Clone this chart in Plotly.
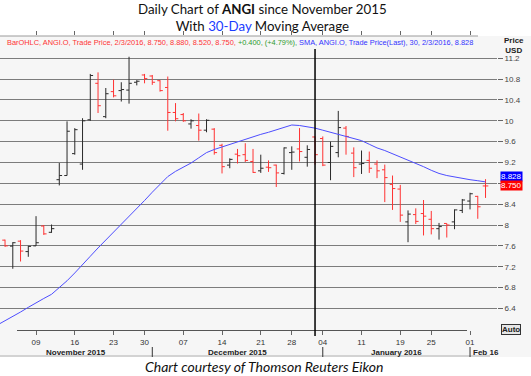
import plotly.graph_objects as go

# ---------------- data ----------------
dates = [
    "2015-11-02", "2015-11-03", "2015-11-04", "2015-11-05", "2015-11-06",
    "2015-11-09", "2015-11-10", "2015-11-11", "2015-11-12", "2015-11-13",
    "2015-11-16", "2015-11-17", "2015-11-18", "2015-11-19", "2015-11-20",
    "2015-11-23", "2015-11-24", "2015-11-25", "2015-11-27", "2015-11-30",
    "2015-12-01", "2015-12-02", "2015-12-03", "2015-12-04", "2015-12-07",
    "2015-12-08", "2015-12-09", "2015-12-10", "2015-12-11", "2015-12-14",
    "2015-12-15", "2015-12-16", "2015-12-17", "2015-12-18", "2015-12-21",
    "2015-12-22", "2015-12-23", "2015-12-24", "2015-12-28", "2015-12-29",
    "2015-12-30", "2015-12-31", "2016-01-04", "2016-01-05", "2016-01-06",
    "2016-01-07", "2016-01-08", "2016-01-11", "2016-01-12", "2016-01-13",
    "2016-01-14", "2016-01-15", "2016-01-19", "2016-01-20", "2016-01-21",
    "2016-01-22", "2016-01-25", "2016-01-26", "2016-01-27", "2016-01-28",
    "2016-01-29", "2016-02-01", "2016-02-02", "2016-02-03",
]
bar_dates = dates[1:]

opens = [7.71, 7.595, 7.69, 7.49,
         7.60, 7.98, 7.86, 8.87, 8.95,
         9.37, 9.17, 10.02, 10.72, 10.08,
         10.56, 10.58, 10.59, 10.74, 10.88,
         10.86, 10.77, 10.64, 10.16, 10.12,
         9.94, 9.91, 9.82, 9.84, 9.53,
         9.15, 9.36, 9.35, 9.22, 9.04,
         9.11, 9.15, 8.99, 9.39, 9.46,
         9.30, 9.69, 9.66, 9.20, 9.39,
         9.86, 9.38, 9.17, 9.24, 9.17,
         9.06, 8.78, 8.69, 8.06, 8.20,
         8.22, 8.11, 7.93, 8.03, 8.06,
         8.28, 8.46, 8.55, 8.75]
highs = [7.72, 7.67, 7.71, 7.60,
         8.17, 8.00, 8.01, 9.19, 9.99,
         9.86, 10.05, 10.90, 10.93, 10.63,
         10.79, 10.74, 11.23, 10.78, 10.90,
         10.88, 10.78, 10.85, 10.34, 10.15,
         10.03, 10.14, 10.03, 9.86, 9.56,
         9.28, 9.46, 9.57, 9.46, 9.35,
         9.24, 9.16, 9.49, 9.51, 9.86,
         9.53, 9.70, 9.70, 9.60, 10.19,
         9.90, 9.49, 9.43, 9.41, 9.24,
         9.16, 8.95, 8.77, 8.28, 8.32,
         8.48, 8.27, 8.04, 8.03, 8.30,
         8.50, 8.62, 8.56, 8.88]
lows = [7.58, 7.16, 7.30, 7.39,
        7.60, 7.81, 7.85, 8.76, 8.95,
        9.35, 9.06, 10.00, 10.15, 10.05,
        10.45, 10.37, 10.33, 10.68, 10.72,
        10.69, 10.56, 9.81, 9.99, 9.98,
        9.85, 9.62, 9.78, 9.35, 8.99,
        9.09, 9.18, 9.21, 9.00, 9.00,
        9.02, 8.73, 8.97, 9.06, 9.22,
        9.12, 9.16, 9.13, 8.86, 9.30,
        9.35, 8.92, 8.98, 9.00, 8.90,
        8.44, 8.29, 8.06, 7.67, 8.02,
        7.80, 7.82, 7.72, 7.76, 7.92,
        8.23, 8.30, 8.12, 8.52]
closes = [7.60, 7.66, 7.50, 7.59,
          7.66, 7.83, 7.93, 8.95, 9.80,
          9.83, 10.00, 10.87, 10.29, 10.52,
          10.48, 10.60, 10.72, 10.76, 10.81,
          10.74, 10.58, 10.16, 10.04, 10.00,
          10.00, 9.82, 10.01, 9.39, 9.12,
          9.26, 9.33, 9.24, 9.01, 9.09,
          9.10, 9.00, 9.48, 9.40, 9.41,
          9.45, 9.35, 9.15, 9.51, 9.87,
          9.70, 9.10, 9.18, 9.09, 9.04,
          8.91, 8.70, 8.19, 8.21, 8.07,
          8.17, 7.93, 7.97, 8.00, 8.29,
          8.48, 8.60, 8.35, 8.75]
bar_colour = ["d", "u", "d", "u",
              "u", "d", "u", "u", "u",
              "u", "u", "u", "d", "u",
              "d", "u", "u", "u", "d",
              "d", "d", "d", "d", "d",
              "u", "d", "u", "d", "d",
              "u", "d", "d", "d", "u",
              "d", "d", "u", "u", "d",
              "u", "d", "d", "u", "u",
              "d", "d", "u", "d", "d",
              "d", "d", "d", "u", "d",
              "d", "d", "u", "d", "u",
              "u", "u", "d", "d"]

sma30 = [6.08, 6.16, 6.25, 6.33, 6.42,
         6.51, 6.59, 6.67, 6.80, 6.93,
         7.08, 7.23, 7.40, 7.56, 7.71,
         7.86, 8.02, 8.17, 8.31, 8.47,
         8.63, 8.79, 8.93, 9.03, 9.11,
         9.19, 9.29, 9.39, 9.45, 9.50,
         9.55, 9.60, 9.65, 9.69, 9.74,
         9.78, 9.83, 9.88, 9.92, 9.91,
         9.89, 9.86, 9.82, 9.78, 9.74,
         9.71, 9.67, 9.62, 9.55, 9.48,
         9.43, 9.37, 9.31, 9.24, 9.18,
         9.12, 9.05, 8.99, 8.95, 8.92,
         8.89, 8.87, 8.85, 8.828]

day_tick_dates = ["2015-11-09", "2015-11-16", "2015-11-23", "2015-11-30",
                  "2015-12-07", "2015-12-14", "2015-12-21", "2015-12-28",
                  "2016-01-04", "2016-01-11", "2016-01-19", "2016-01-25",
                  "2016-02-01"]
day_tick_labels = ["09", "16", "23", "30", "07", "14", "21", "28",
                   "04", "11", "19", "25", "01"]
month_labels = ["November 2015", "December 2015", "January 2016", "Feb 16"]
month_starts = ["2015-12-01", "2016-01-04", "2016-02-01"]
marker_date = "2015-12-31"

# the 8.8 label is hidden behind the last-value boxes in the reference
y_ticks = [11.2, 10.8, 10.4, 10.0, 9.6, 9.2, 8.8, 8.4, 8.0, 7.6, 7.2, 6.8, 6.4]
y_tick_labels = ["11.2", "10.8", "10.4", "10", "9.6", "9.2", "", "8.4",
                 "8", "7.6", "7.2", "6.8", "6.4"]

# ---------------- figure ----------------
W, H = 531, 376
ML, MR, MT, MB = 0, 34, 36, 46
PW, PH = W - ML - MR, H - MT - MB


def px_x(p):  # pixel -> paper x
    return (p - ML) / PW


def px_y(p):  # pixel -> paper y
    return (H - MB - p) / PH


RED = "#ff3333"
BLACK = "#2a2a2a"
BLUE_LINE = "#4d4dff"
PANEL = "#f6f6f6"
FONT = "Liberation Sans"

fig = go.Figure()

fig.add_trace(go.Scatter(x=dates, y=sma30, mode="lines",
                         line=dict(color=BLUE_LINE, width=1),
                         hoverinfo="skip"))

for key, col in (("u", BLACK), ("d", RED)):
    idx = [i for i, c in enumerate(bar_colour) if c == key]
    fig.add_trace(go.Ohlc(
        x=[bar_dates[i] for i in idx],
        open=[opens[i] for i in idx],
        high=[highs[i] for i in idx],
        low=[lows[i] for i in idx],
        close=[closes[i] for i in idx],
        increasing=dict(line=dict(color=col, width=1)),
        decreasing=dict(line=dict(color=col, width=1)),
        tickwidth=0.36,
    ))

fig.update_layout(
    width=W, height=H,
    margin=dict(l=ML, r=MR, t=MT, b=MB),
    paper_bgcolor="white", plot_bgcolor=PANEL,
    showlegend=False,
    font=dict(family=FONT, size=8, color="#333"),
)

fig.update_xaxes(
    type="category", categoryorder="array", categoryarray=dates,
    range=[0.35, 64.48],
    tickmode="array", tickvals=day_tick_dates, ticktext=day_tick_labels,
    ticks="outside", ticklen=4, tickcolor="#666", mirror="ticks",
    showline=False, showgrid=False, zeroline=False,
    tickfont=dict(family=FONT, size=8, color="#333"),
    rangeslider=dict(visible=False),
)

fig.update_yaxes(
    side="right", range=[5.985, 11.628],
    tickmode="array", tickvals=y_ticks, ticktext=y_tick_labels,
    ticks="outside", ticklen=5, tickcolor="#666",
    showgrid=True, gridcolor="#7c7c7c", gridwidth=1,
    zeroline=False, showline=False,
    tickfont=dict(family=FONT, size=8, color="#444"),
)

shapes = []
# panel background
shapes.append(dict(type="rect", xref="paper", yref="paper",
                   x0=px_x(0), x1=px_x(W), y0=px_y(357), y1=px_y(36),
                   fillcolor=PANEL, line=dict(width=0), layer="below"))
# top border
shapes.append(dict(type="line", xref="paper", yref="paper",
                   x0=px_x(0), x1=px_x(478), y0=px_y(36), y1=px_y(36),
                   line=dict(color="#9a9a9a", width=1)))
# time axis line
shapes.append(dict(type="line", xref="paper", yref="paper",
                   x0=px_x(17), x1=px_x(467), y0=px_y(330.5), y1=px_y(330.5),
                   line=dict(color="#555", width=1)))
# bottom panel border
shapes.append(dict(type="line", xref="paper", yref="paper",
                   x0=px_x(0), x1=px_x(490), y0=px_y(356), y1=px_y(356),
                   line=dict(color="#b0b0b0", width=1)))
# year-end marker line
mi = dates.index(marker_date)
shapes.append(dict(type="line", xref="x", yref="paper",
                   x0=mi, x1=mi, y0=px_y(336), y1=px_y(49),
                   line=dict(color="black", width=1.5)))
# month separators
for d in month_starts:
    k = dates.index(d)
    shapes.append(dict(type="line", xref="x", yref="paper",
                       x0=k, x1=k, y0=px_y(357), y1=px_y(347),
                       line=dict(color="#333", width=1)))
fig.update_layout(shapes=shapes)

ann = []
# title
ann.append(dict(xref="paper", yref="paper", x=px_x(262), y=px_y(17.5),
                xanchor="center", yanchor="middle", showarrow=False,
                text="Daily Chart of <b>ANGI</b> since November 2015<br>"
                     "With <span style='color:#1a3cff'>30-Day</span> Moving Average",
                font=dict(family="Lato", size=13.3, color="#111")))
# legend text
date_txt = f"{int(bar_dates[-1][5:7])}/{int(bar_dates[-1][8:])}/{bar_dates[-1][:4]}"
chg = closes[-1] - closes[-2]
leg = (f"<span style='color:{RED}'>BarOHLC, ANGI.O, Trade Price, {date_txt}, "
       f"{opens[-1]:.3f}, {highs[-1]:.3f}, {lows[-1]:.3f}, {closes[-1]:.3f}, </span>"
       f"<span style='color:#2e9a2e'>+{chg:.3f}, (+{chg / closes[-2] * 100:.2f}%), </span>"
       f"<span style='color:#3333ff'>SMA, ANGI.O, Trade Price(Last), 30, "
       f"{date_txt}, {sma30[-1]:.3f}</span>")
ann.append(dict(xref="paper", yref="paper", x=px_x(5), y=px_y(42.5),
                xanchor="left", yanchor="middle", showarrow=False, text=leg,
                font=dict(family=FONT, size=7.4)))
# Price USD
ann.append(dict(xref="paper", yref="paper", x=px_x(514), y=px_y(45),
                xanchor="center", yanchor="middle", showarrow=False,
                text="<b>Price</b><br><b>USD</b>", align="center",
                font=dict(family=FONT, size=8, color="#222")))
# last value boxes
ann.append(dict(xref="paper", yref="y", x=px_x(500), y=sma30[-1], yshift=5,
                xanchor="left", yanchor="middle", showarrow=False,
                text=f"{sma30[-1]:.3f}", bgcolor="#0000ff", borderpad=0,
                font=dict(family=FONT, size=8, color="white")))
ann.append(dict(xref="paper", yref="y", x=px_x(500), y=closes[-1],
                xanchor="left", yanchor="middle", showarrow=False,
                text=f"{closes[-1]:.3f}", bgcolor="#ff0000", borderpad=0,
                font=dict(family=FONT, size=8, color="white")))
# Auto box
ann.append(dict(xref="paper", yref="y", x=px_x(501), y=6.0,
                xanchor="left", yanchor="middle", showarrow=False,
                text="<b>Auto</b>", bgcolor="#e6e6e6", bordercolor="#333",
                borderwidth=1, borderpad=0,
                font=dict(family=FONT, size=8, color="#222")))
# month labels
bounds = [0.35] + [dates.index(d) for d in month_starts]
for i, lab in enumerate(month_labels[:3]):
    ann.append(dict(xref="x", yref="paper", x=(bounds[i] + bounds[i + 1]) / 2,
                    y=px_y(352), xanchor="center", yanchor="middle",
                    showarrow=False, text=f"<b>{lab}</b>",
                    font=dict(family=FONT, size=8, color="#222")))
ann.append(dict(xref="x", yref="paper", x=bounds[3], y=px_y(352), xshift=1,
                xanchor="left", yanchor="middle", showarrow=False,
                text=f"<b>{month_labels[3]}</b>",
                font=dict(family=FONT, size=8, color="#222")))
# caption
ann.append(dict(xref="paper", yref="paper", x=px_x(264), y=px_y(366.5),
                xanchor="center", yanchor="middle", showarrow=False,
                text="<i>Chart courtesy of Thomson Reuters Eikon</i>",
                font=dict(family="Lato", size=14, color="#111")))
fig.update_layout(annotations=ann)

fig.write_html("out.html", config={"displayModeBar": False},
               post_script="document.body.style.margin='0';"
                           "document.body.style.padding='0';")
